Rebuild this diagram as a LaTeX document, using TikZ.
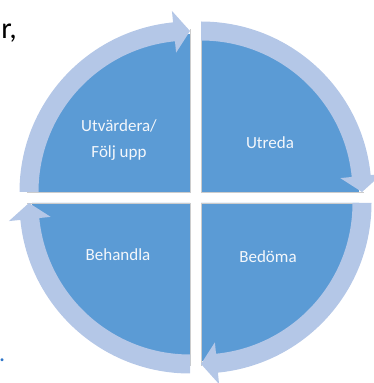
\documentclass[tikz,border=0pt]{standalone}
\usepackage{fontspec}
\setmainfont{Carlito}
\definecolor{pieblue}{HTML}{5B9BD5}
\definecolor{bandblue}{HTML}{B4C7E7}
\definecolor{labelwhite}{HTML}{F4F7FB}
\definecolor{linkblue}{HTML}{2E75C8}
\def\rC{161}
\def\rO{170.5}
\def\rI{151.5}
\def\rHo{182}
\def\rHi{140}
\def\hd{5.7}
\newcommand\quadarrow[2]{%
  \fill[band,shift={(#1)}] (#2:\rO)
    arc[start angle=#2,end angle={#2-90+\hd},radius=\rO]
    -- ({#2-90+\hd}:\rHo) -- ({#2-90}:\rC) -- ({#2-90+\hd}:\rHi)
    -- ({#2-90+\hd}:\rI)
    arc[start angle={#2-90+\hd},end angle=#2,radius=\rI] -- cycle;}
\newcommand\quadpie[2]{%
  \fill[pie,shift={(#1)}] (0,0) -- (#2:158)
    arc[start angle=#2,end angle={#2-90},radius=158] -- cycle;
  \draw[edge,shift={(#1)}] (#2:163) -- (0,0) -- ({#2-90}:163);}
\begin{document}
\begin{tikzpicture}[x=1pt,y=1pt,
  pie/.style={fill=pieblue},
  band/.style={fill=bandblue},
  edge/.style={draw=gray!40,line width=0.6pt},
  lbl/.style={text=labelwhite,font=\fontsize{17}{26}\selectfont,align=center}]
\useasboundingbox (0,0) rectangle (374,383);
\coordinate (tl) at (190,191);
\coordinate (tr) at (201,191);
\coordinate (br) at (201,180);
\coordinate (bl) at (190,180);
\quadpie{tl}{180}
\quadpie{tr}{90}
\quadpie{br}{0}
\quadpie{bl}{270}
\quadarrow{tl}{180}
\quadarrow{tr}{90}
\quadarrow{br}{0}
\quadarrow{bl}{270}
\node[lbl] (utv) at (119,243) {Utvärdera/\\Följ upp};
\node[lbl] (utr) at (270,240) {Utreda};
\node[lbl] (beh) at (118,128) {Behandla};
\node[lbl] (bed) at (268,126) {Bedöma};
\node[anchor=base east,font=\fontsize{30}{30}\selectfont,inner sep=0pt] (frag) at (17,344) {r,};
\node[anchor=base west,text=linkblue,font=\fontsize{24}{24}\selectfont,inner sep=0pt] (dot) at (-1,21) {.};
\end{tikzpicture}
\end{document}
